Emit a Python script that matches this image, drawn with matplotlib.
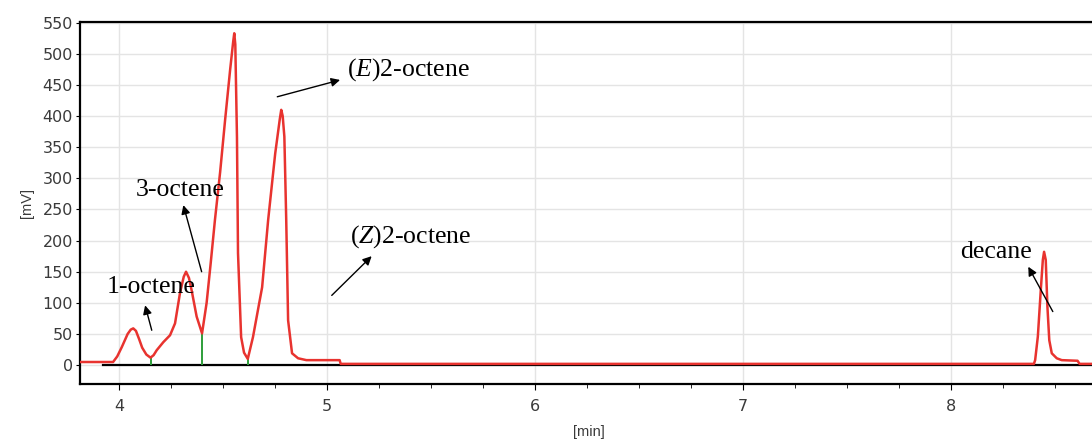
import matplotlib
matplotlib.use("Agg")
import matplotlib.pyplot as plt
from matplotlib.ticker import MultipleLocator


# retention time (min) and detector signal (mV)
TIME = [3.81, 3.92, 3.97, 3.99, 4.012, 4.04, 4.055, 4.067, 4.08, 4.095, 4.11,
        4.13, 4.150, 4.165, 4.18, 4.212, 4.244, 4.268, 4.292, 4.31, 4.321,
        4.335, 4.348, 4.372, 4.398, 4.42, 4.44, 4.46, 4.485, 4.509, 4.533,
        4.548, 4.553, 4.558, 4.566, 4.571, 4.586, 4.60, 4.618, 4.643, 4.665,
        4.687, 4.716, 4.750, 4.772, 4.779, 4.786, 4.794, 4.803, 4.812, 4.831,
        4.86, 4.90, 5.06, 5.065, 8.40, 8.406, 8.419, 8.433, 8.443, 8.449,
        8.457, 8.465, 8.474, 8.486, 8.51, 8.534, 8.61, 8.62, 8.71]
SIGNAL = [5, 5, 5, 14, 29, 50, 57, 59, 55, 42, 28,
          17, 12, 16, 24, 37, 48, 67, 116, 142, 150,
          140, 120, 78, 51, 100, 165, 233, 310, 394, 474,
          520, 533, 515, 366, 180, 45, 20, 10, 45, 85,
          125, 233, 340, 395, 410, 400, 367, 233, 72, 19,
          11, 8, 8, 2, 2, 8, 46, 120, 169, 182,
          169, 94, 40, 19, 11, 8, 7, 2, 2]

# integration split markers (time, height)
SPLIT_TIME = [4.153, 4.399, 4.618]
SPLIT_HEIGHT = [12, 51, 10]
BASELINE_SPAN = [3.92, 8.71]

# peak labels: text, text position, arrow tail, arrow head
LABELS = [r"1-octene", r"3-octene", r"($\mathit{E}$)2-octene",
          r"($\mathit{Z}$)2-octene", r"decane"]
LABEL_POS = [(3.939, 125), (4.081, 281), (5.094, 474), (5.11, 206), (8.045, 182)]
ARROW_TAIL = [(4.156, 56), (4.396, 150), (4.760, 431), (5.022, 112), (8.491, 86)]
ARROW_HEAD = [(4.124, 96), (4.308, 257), (5.062, 458), (5.214, 175), (8.373, 158)]


def main():
    plt.rcParams["mathtext.fontset"] = "custom"
    plt.rcParams["mathtext.rm"] = "Liberation Serif"
    plt.rcParams["mathtext.it"] = "Liberation Serif:italic"

    fig = plt.figure(figsize=(10.92, 4.41), dpi=100)
    ax = fig.add_axes([0.0731, 0.129, 0.9327, 0.821])

    ax.grid(True, color="#e4e4e4", linewidth=1.0)
    ax.set_axisbelow(True)

    ax.plot(TIME, SIGNAL, color="#e8332f", linewidth=1.8, zorder=3)
    ax.plot(BASELINE_SPAN, [0, 0], color="black", linewidth=1.6, zorder=2)
    ax.vlines(SPLIT_TIME, 0, SPLIT_HEIGHT, color="#2e9e3a", linewidth=1.4, zorder=2)

    for text, pos, tail, head in zip(LABELS, LABEL_POS, ARROW_TAIL, ARROW_HEAD):
        ax.text(pos[0], pos[1], text, fontsize=18.5, family="Liberation Serif",
                va="center", ha="left", zorder=5)
        ax.annotate("", xy=head, xytext=tail,
                    arrowprops=dict(arrowstyle="-|>", color="black", lw=1.0,
                                    mutation_scale=13, shrinkA=0, shrinkB=0),
                    zorder=5)

    ax.set_xlim(3.81, 8.71)
    ax.set_ylim(-30.5, 551)
    ax.xaxis.set_major_locator(MultipleLocator(1))
    ax.xaxis.set_minor_locator(MultipleLocator(0.25))
    ax.yaxis.set_major_locator(MultipleLocator(50))

    for side in ["left", "top", "bottom"]:
        ax.spines[side].set_linewidth(1.6)
    ax.spines["right"].set_visible(False)

    ax.tick_params(axis="x", which="major", length=4, pad=7, labelsize=11.5,
                   labelcolor="#3a3a3a")
    ax.tick_params(axis="x", which="minor", length=3)
    ax.tick_params(axis="y", length=3, pad=2, labelsize=11.5, labelcolor="#3a3a3a")
    for lab in ax.get_xticklabels() + ax.get_yticklabels():
        lab.set_family("DejaVu Sans")

    ax.set_xlabel("[min]", fontsize=10.5, family="Liberation Sans", color="#3a3a3a",
                  labelpad=8)
    ax.set_ylabel("[mV]", fontsize=10.5, family="Liberation Sans", color="#3a3a3a",
                  labelpad=6)

    fig.savefig("out.png", dpi=100)
    plt.close(fig)


if __name__ == "__main__":
    main()
